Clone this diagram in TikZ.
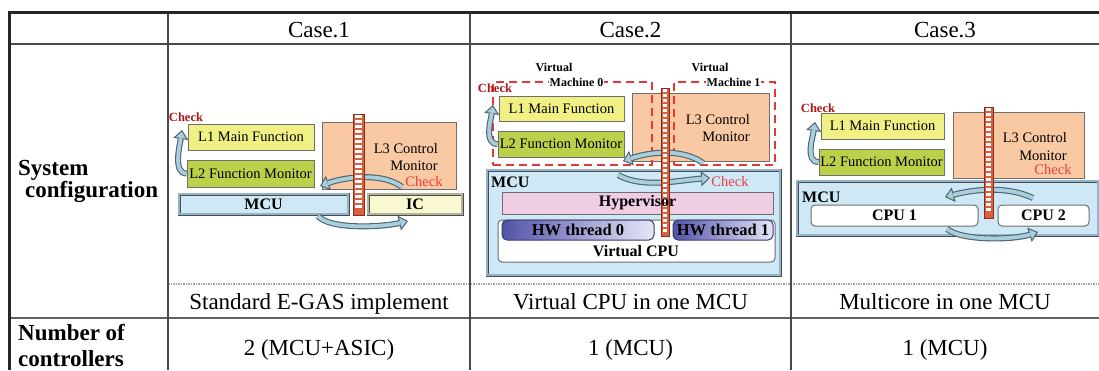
\documentclass[tikz,border=0pt]{standalone}
\usepackage{fontspec}
\setmainfont{Liberation Serif}
\usetikzlibrary{arrows.meta,calc}

\definecolor{lOne}{HTML}{F0F085}
\definecolor{lTwo}{HTML}{BDD04A}
\definecolor{lThree}{HTML}{F8C9A2}
\definecolor{mcuBlue}{HTML}{CFE8F6}
\definecolor{mcuEdge}{HTML}{93B4C8}
\definecolor{icYellow}{HTML}{FAF8D0}
\definecolor{icEdge}{HTML}{B4B49A}
\definecolor{hyperPink}{HTML}{EFCDE2}
\definecolor{hwDark}{HTML}{5252A8}
\definecolor{hwLight}{HTML}{E6E6F7}
\definecolor{vmRed}{HTML}{E53935}
\definecolor{chkDark}{HTML}{B01818}
\definecolor{chkRed}{HTML}{EE3A3A}
\definecolor{fwRed}{HTML}{D9603F}
\definecolor{fwEdge}{HTML}{8E2A1C}
\definecolor{arwBlue}{HTML}{A9CEDC}
\definecolor{arwDark}{HTML}{4E6470}
\definecolor{boxEdge}{HTML}{6E6E6E}
\definecolor{ruleGray}{HTML}{4A4A4A}

% brick firewall column: name, left x, top y, width, height
\newcommand{\firewall}[5]{%
  \node[fwall, minimum width=#4, minimum height=#5, anchor=north west] (#1) at (#2,#3) {};
  \pgfmathtruncatemacro{\fwn}{floor((#5-2)/5)}%
  \foreach \k in {1,...,\fwn}{%
    \fill[white] ($(#1.north west)+(1.8,\k*5-3.6)$) rectangle ++(#4-3.6,2.6);
  }%
}
% curved block arrow: dark shell with a light core
\newcommand{\curvarrow}[1]{\draw[arrshell] #1; \draw[arrcore] #1;}

\begin{document}
\begin{tikzpicture}[x=1pt,y=-1pt,
  txt/.style={font=\fontsize{23}{28}\selectfont, inner sep=0},
  txtb/.style={font=\fontsize{23}{28}\selectfont\bfseries, inner sep=0},
  outerrule/.style={line width=3.5pt, draw=black!85},
  innerrule/.style={line width=1.4pt, draw=ruleGray},
  lay/.style={draw=boxEdge, line width=1pt, inner sep=0, font=\fontsize{14.5}{17}\selectfont},
  l3txt/.style={font=\fontsize{14.5}{16.5}\selectfont, align=right, inner sep=0, anchor=east},
  bl/.style={font=\fontsize{16}{19}\selectfont\bfseries, inner sep=0},
  bevel/.style args={#1/#2}{fill=#1, double=#2, draw=gray!60!black, line width=0.5pt, double distance=2pt, inner sep=0, font=\fontsize{16}{19}\selectfont\bfseries},
  roundbox/.style={draw=boxEdge, line width=1pt, fill=white, rounded corners=4pt, inner sep=0},
  hwbox/.style={draw=hwDark!70!black, line width=1pt, rounded corners=5pt, left color=hwDark, right color=hwLight, inner sep=0, font=\fontsize{16.5}{19}\selectfont\bfseries},
  vmbox/.style={draw=vmRed, line width=2.6pt, dash pattern=on 8pt off 5pt, inner sep=0},
  vmlbl/.style={font=\fontsize{12}{14}\selectfont\bfseries, inner sep=1pt},
  chkd/.style={text=chkDark, font=\fontsize{12.5}{14}\selectfont\bfseries, inner sep=0},
  chkr/.style={text=chkRed, font=\fontsize{14.5}{17}\selectfont, inner sep=0},
  fwall/.style={draw=fwEdge, line width=0.8pt, fill=fwRed, inner sep=0, outer sep=0},
  arrshell/.style={draw=arwDark, line width=6pt, -{Triangle[width=15pt,length=9pt,fill=arwBlue,line width=1pt]}},
  arrcore/.style={draw=arwBlue, line width=3.8pt, shorten >=8.2pt}
]
\useasboundingbox (0,0) rectangle (1099,370);
\fill[white] (0,0) rectangle (1099,370);

% ---------- table rules ----------
\draw[innerrule] (8,44) -- (1099,44);
\draw[line width=2pt, draw=gray!75!black] (8,318) -- (1099,318);
\draw[line width=2pt, draw=gray!70, dash pattern=on 1.5pt off 1pt] (168,284) -- (1099,284);
\foreach \cx in {168,470,791} \draw[innerrule] (\cx,12) -- (\cx,370);
\draw[outerrule] (8,12.5) -- (1099,12.5);
\draw[outerrule] (9.5,11) -- (9.5,370);

% ---------- headers ----------
\node[txt, anchor=base] (hd1) at (319,37) {Case.1};
\node[txt, anchor=base] (hd2) at (630.5,37) {Case.2};
\node[txt, anchor=base] (hd3) at (945,37) {Case.3};

% ---------- row labels ----------
\node[txtb, anchor=base west] (sysA) at (18,175) {System};
\node[txtb, anchor=base west] (sysB) at (25,197) {configuration};
\node[txtb, anchor=base west] (numA) at (18,340.5) {Number of};
\node[txtb, anchor=base west] (numB) at (18,366.5) {controllers};

% ---------- captions and counts ----------
\node[txt, anchor=base] (cap1) at (319,309) {Standard E-GAS implement};
\node[txt, anchor=base] (cap2) at (630.5,309) {Virtual CPU in one MCU};
\node[txt, anchor=base] (cap3) at (945,309) {Multicore in one MCU};
\node[txt, anchor=base] (cnt1) at (319,355) {2 (MCU+ASIC)};
\node[txt, anchor=base] (cnt2) at (630.5,355) {1 (MCU)};
\node[txt, anchor=base] (cnt3) at (945,355) {1 (MCU)};

% ================= Case 1: MCU + separate IC =================
\node[lay, fill=lThree, minimum width=134, minimum height=67] (L3a) at (389,155.5) {};
\node[lay, fill=lOne, minimum width=126, minimum height=26] (L1a) at (251,137) {L1 Main Function};
\node[lay, fill=lTwo, minimum width=127, minimum height=27] (L2a) at (250.5,173.5) {L2 Function Monitor};
\node[bevel=mcuBlue/mcuEdge, minimum width=169, minimum height=20] (MCUa) at (263.5,204) {MCU};
\node[bevel=icYellow/icEdge, minimum width=94, minimum height=20] (ICa) at (415,204) {IC};
\node[l3txt] (L3ta) at (438,157) {L3 Control\\Monitor};
\node[chkr] (cka) at (424,181.5) {Check};
\node[chkd] (ckda) at (186,117) {Check};

\coordinate (a1e) at (182,130);
\curvarrow{(L2a.west) .. controls +(-14,0) and +(-2,14) .. (a1e)}
\coordinate (a2s) at (402,187);
\coordinate (a2e) at (320,186);
\curvarrow{(a2s) .. controls +(-18,-14) and +(28,-10) .. (a2e)}
\coordinate (a3s) at (318,216);
\coordinate (a3e) at (408,221);
\curvarrow{(a3s) .. controls +(12,14) and +(-25,6) .. (a3e)}

\firewall{fwa}{353}{114}{11}{101}

% ================= Case 2: virtual CPU =================
\node[bevel=mcuBlue/mcuEdge, minimum width=293, minimum height=105] (MCUb) at (633.5,222.5) {};
\node[bl, anchor=west] (MCUbt) at (491,182) {MCU};
\node[lay, fill=hyperPink, minimum width=271, minimum height=22] (HYP) at (637.5,203) {};
\node[roundbox, minimum width=277, minimum height=42] (VCPU) at (636.5,241) {};
\node[bl, anchor=base] (VCPUt) at (636,256) {Virtual CPU};
\node[hwbox, minimum width=152, minimum height=20] (HW0) at (578,230) {HW thread 0};
\node[hwbox, minimum width=100, minimum height=20] (HW1) at (723,230) {HW thread 1};

\node[lay, fill=lThree, minimum width=137, minimum height=68] (L3b) at (700.5,127) {};
\node[lay, fill=lOne, minimum width=125, minimum height=25] (L1b) at (561.5,108.5) {L1 Main Function};
\node[lay, fill=lTwo, minimum width=126, minimum height=26] (L2b) at (561,144) {L2 Function Monitor};
\node[l3txt] (L3tb) at (750,128) {L3 Control\\Monitor};

\node[vmbox, minimum width=159, minimum height=83] (VM0) at (572.5,123.5) {};
\node[vmbox, minimum width=101, minimum height=83] (VM1) at (724.5,123.5) {};
\node[vmlbl] (VM0a) at (554,67) {Virtual};
\node[vmlbl, fill=white] (VM0b) at (576.5,82.5) {Machine 0};
\node[vmlbl] (VM1a) at (710,67) {Virtual};
\node[vmlbl, fill=white] (VM1b) at (733.5,82.5) {Machine 1};
\node[chkd] (ckdb) at (495,88) {Check};
\node[chkr] (ckb) at (730,182) {Check};

\coordinate (b1e) at (493,105);
\curvarrow{(L2b.west) .. controls +(-14,0) and +(-2,14) .. (b1e)}
\coordinate (b2s) at (703,163);
\coordinate (b2e) at (623,161);
\curvarrow{(b2s) .. controls +(-20,-14) and +(30,-10) .. (b2e)}
\coordinate (b3s) at (618,175);
\coordinate (b3e) at (710,178);
\curvarrow{(b3s) .. controls +(25,14) and +(-30,2) .. (b3e)}

\firewall{fwb}{661}{88}{8}{148}
% hypervisor label sits over the firewall column
\node[bl] (HYPt) at (HYP) {Hypervisor};

% ================= Case 3: multicore =================
\node[lay, fill=lThree, minimum width=131, minimum height=66] (L3c) at (1018.5,145) {};
\node[lay, fill=lOne, minimum width=123, minimum height=26] (L1c) at (882.5,126) {L1 Main Function};
\node[lay, fill=lTwo, minimum width=125, minimum height=26] (L2c) at (881.5,162) {L2 Function Monitor};
\node[l3txt, text depth=0pt] (L3tc) at (1067,146) {L3 Control\\[1.5pt]Monitor};
\node[chkr] (ckc) at (1053,170) {Check};
\node[chkd] (ckdc) at (818,108) {Check};

\node[bevel=mcuBlue/mcuEdge, minimum width=301, minimum height=54] (MCUc) at (947.5,208) {};
\node[bl, anchor=west] (MCUct) at (802,197) {MCU};
\node[roundbox, minimum width=167, minimum height=21, font=\fontsize{16}{19}\selectfont\bfseries] (CPU1) at (894.5,215.5) {CPU 1};
\node[roundbox, minimum width=91, minimum height=21, font=\fontsize{16}{19}\selectfont\bfseries] (CPU2) at (1043.5,215.5) {CPU 2};

\coordinate (c1e) at (815,122);
\curvarrow{(L2c.west) .. controls +(-14,0) and +(-2,14) .. (c1e)}
\coordinate (c2s) at (1033,198);
\coordinate (c2e) at (945,197);
\curvarrow{(c2s) .. controls +(-25,-12) and +(30,-8) .. (c2e)}
\coordinate (c3s) at (947,229);
\coordinate (c3e) at (1038,232);
\curvarrow{(c3s) .. controls +(15,12) and +(-25,8) .. (c3e)}

\firewall{fwc}{984}{107}{9}{111}
\end{tikzpicture}
\end{document}
